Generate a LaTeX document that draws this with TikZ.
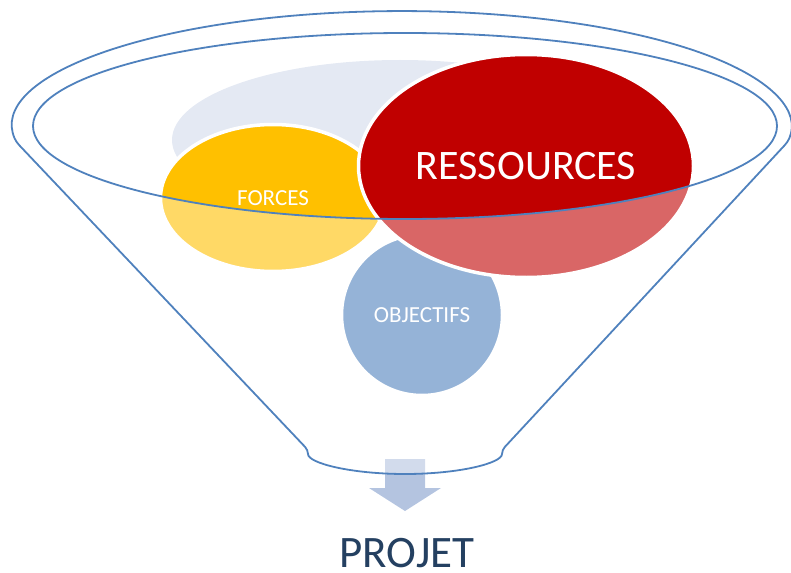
\documentclass[tikz,border=0pt]{standalone}
\usepackage{xcolor}
\usepackage{fontspec}
\setmainfont{Carlito}
\usetikzlibrary{shapes.geometric}

\definecolor{funnelblue}{RGB}{79,129,189}
\definecolor{fondgrey}{RGB}{228,233,243}
\definecolor{forcesyellow}{RGB}{255,192,0}
\definecolor{ressred}{RGB}{192,0,0}
\definecolor{flecheblue}{RGB}{180,196,224}
\definecolor{projetblue}{RGB}{36,64,97}

\begin{document}
\begin{tikzpicture}[x=1pt,y=1pt,yscale=-1,xscale=1,
  blob/.style={ellipse, draw=white, line width=3.5, inner sep=0pt, text=white},
  funnel/.style={draw=funnelblue, line width=1.8, rounded corners=4}]
\useasboundingbox (0,0) rectangle (791,572);

%Shape: Ellipse (background)
\node[blob, draw=none, fill=fondgrey, minimum width=456, minimum height=160] (fond) at (400,140) {};
%Shape: Circle
\node[blob, circle, fill=funnelblue, minimum size=161] (objectifs) at (422,315) {\fontsize{23}{28}\selectfont OBJECTIFS};
%Shape: Ellipse
\node[blob, fill=forcesyellow, minimum width=225, minimum height=147] (forces) at (273,198) {\fontsize{23}{28}\selectfont FORCES};
%Shape: Ellipse
\node[blob, fill=ressred, minimum width=335, minimum height=223] (ressources) at (526,166) {\fontsize{42}{50}\selectfont RESSOURCES};

%Shape: Down Arrow
\fill[flecheblue] (385,459) -- (425,459) -- (425,488) -- (441,488) -- (405,511) -- (369,488) -- (385,488) -- cycle;

%Shape: Funnel (lighter front part)
\fill[white, opacity=0.4, even odd rule] (16.2,142) arc[start angle=172.6, end angle=367.4, x radius=389, y radius=116] -- (502,450) arc[start angle=0, end angle=180, x radius=97, y radius=24] -- cycle
  (405,126) ellipse [x radius=372, y radius=93];
%Shape: Funnel outline
\draw[funnel] (16.2,142) arc[start angle=172.6, end angle=367.4, x radius=389, y radius=116] -- (502,450) arc[start angle=0, end angle=180, x radius=97, y radius=24] -- cycle;
%Shape: Ellipse (funnel mouth)
\draw[funnel] (405,126) ellipse [x radius=372, y radius=93];

% Text Node
\node[text=projetblue, anchor=base, inner sep=0pt] (projet) at (407,567) {\fontsize{45}{54}\selectfont PROJET};

\end{tikzpicture}
\end{document}
